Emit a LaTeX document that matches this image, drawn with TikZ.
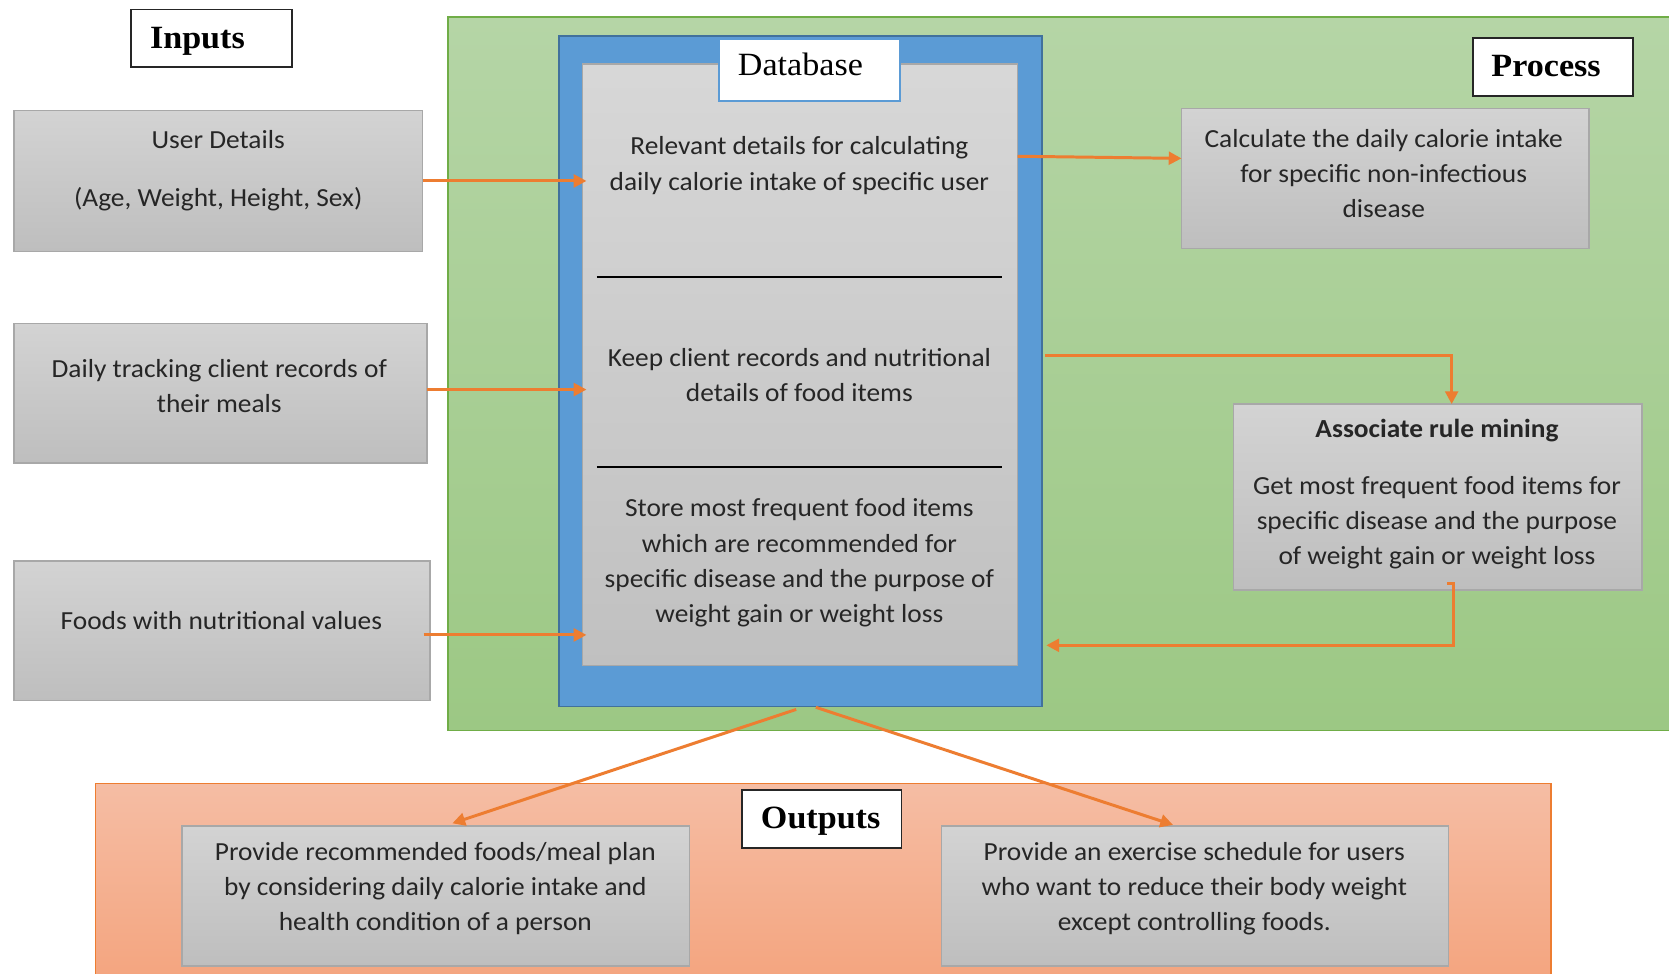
\documentclass[tikz,border=0pt]{standalone}
\usepackage{fontspec}
\setmainfont{Carlito}[FakeStretch=1.05]
\newfontfamily\labfont{Liberation Serif}[FakeStretch=1.05]
\usetikzlibrary{arrows.meta,calc}
\definecolor{arrowc}{HTML}{ED7D31}
\definecolor{grayT}{HTML}{D3D3D3}
\definecolor{grayB}{HTML}{BEBEBE}
\definecolor{boxedge}{HTML}{A8A8A8}
\definecolor{greenT}{HTML}{B5D5A6}
\definecolor{greenB}{HTML}{9CC884}
\definecolor{greenedge}{HTML}{70AD47}
\definecolor{blueF}{HTML}{5B9BD5}
\definecolor{blueedge}{HTML}{41719C}
\definecolor{orangeT}{HTML}{F5BDA4}
\definecolor{orangeB}{HTML}{F4A47E}
\definecolor{textc}{HTML}{262626}
\begin{document}
\begin{tikzpicture}[x=1pt,y=-1pt,
  box/.style={inner sep=0pt,outer sep=0pt},
  graybox/.style={box,draw=boxedge,line width=1.3pt,top color=grayT,bottom color=grayB},
  labbox/.style={box,draw=textc,line width=1.6pt,fill=white},
  txt/.style={align=center,inner sep=0pt,text=textc,font=\fontsize{24.5}{33}\selectfont},
  labtxt/.style={inner sep=0pt,anchor=base,font=\labfont\fontsize{30.5}{36}\selectfont},
  arr/.style={draw=arrowc,line width=2.8pt,-{Triangle[length=12pt,width=12pt]}},
  divider/.style={draw=black,line width=1.5pt}]
\useasboundingbox (0,0) rectangle (1568,915);
\fill[white] (0,0) rectangle (1568,915);
% areas
\node[box,draw=greenedge,line width=1.3pt,top color=greenT,bottom color=greenB,minimum width=1160pt,minimum height=670pt] (proc) at (1001,351) {};
\node[box,draw=arrowc,line width=1.3pt,top color=orangeT,bottom color=orangeB,minimum width=1367pt,minimum height=189pt] (outarea) at (773.5,830.5) {};
% database
\node[box,draw=blueedge,line width=1.3pt,fill=blueF,minimum width=454pt,minimum height=629.5pt] (dbout) at (752,348.75) {};
\node[box,draw=boxedge,line width=1.3pt,top color=grayT!90!white,bottom color=grayB!90!grayT,minimum width=409pt,minimum height=565pt] (dbin) at (751.5,342.5) {};
\node[box,draw=blueF,line width=1.2pt,fill=white,minimum width=170pt,minimum height=58.4pt] (dblab) at (760.5,65.8) {};
\node[labtxt] (dblabt) at (752,71.4) {Database};
\draw[divider] (dbin.west |- 0,260) ++(13.7,0) coordinate (d1a) -- ($(d1a)+(380.3,0)$) coordinate (d1b);
\draw[divider] (dbin.west |- 0,439) ++(13.7,0) coordinate (d2a) -- ($(d2a)+(380.3,0)$) coordinate (d2b);
\node[txt] (db1) at (751,155.5) {Relevant details for calculating\\daily calorie intake of specific user};
\node[txt] (db2) at (751,352) {Keep client records and nutritional\\details of food items};
\node[txt] (db3) at (751,528.5) {Store most frequent food items\\[0.5pt]which are recommended for\\specific disease and the purpose of\\weight gain or weight loss};
% labels
\node[labbox,minimum width=151pt,minimum height=54pt] (inlab) at (198.5,36) {};
\node[labtxt,font=\labfont\bfseries\fontsize{30.5}{36}\selectfont] (inlabt) at (185.5,45.4) {Inputs};
\node[labbox,minimum width=150pt,minimum height=54pt] (proclab) at (1459,63) {};
\node[labtxt,font=\labfont\bfseries\fontsize{30.5}{36}\selectfont] (proclabt) at (1452.5,72) {Process};
\node[labbox,minimum width=150pt,minimum height=55pt] (outlab) at (772,769.5) {};
\node[labtxt,font=\labfont\bfseries\fontsize{30.5}{36}\selectfont] (outlabt) at (771,778.2) {Outputs};
% input boxes
\node[graybox,minimum width=384pt,minimum height=132pt] (ud) at (205,170) {};
\node[txt] (udt) at (205,160.5) {User Details\\[21pt](Age, Weight, Height, Sex)};
\node[graybox,minimum width=388pt,minimum height=131pt] (dt) at (207,369.5) {};
\node[txt] (dtt) at (206,363) {Daily tracking client records of\\their meals};
\node[graybox,minimum width=391pt,minimum height=131pt] (fn) at (208.5,592.5) {};
\node[txt] (fnt) at (208,583) {Foods with nutritional values};
% process boxes
\node[graybox,minimum width=382.7pt,minimum height=131.6pt] (calc) at (1301.35,167.8) {};
\node[txt] (calct) at (1300,163) {Calculate the daily calorie intake\\for specific non-infectious\\disease};
\node[graybox,minimum width=383.6pt,minimum height=174.7pt] (assoc) at (1350.8,467) {};
\node[txt] (assoct) at (1350,464.5) {\textbf{Associate rule mining}\\[20.5pt]Get most frequent food items for\\specific disease and the purpose\\of weight gain or weight loss};
% output boxes
\node[graybox,minimum width=476.6pt,minimum height=131.5pt] (out1) at (409.3,841.75) {};
\node[txt] (out1t) at (409,835) {Provide recommended foods/meal plan\\by considering daily calorie intake and\\health condition of a person};
\node[graybox,minimum width=476.5pt,minimum height=131.5pt] (out2) at (1122.75,841.75) {};
\node[txt] (out2t) at (1122,835) {Provide an exercise schedule for users\\who want to reduce their body weight\\except controlling foods.};
% connectors
\draw[arr] (ud.east) -- ($(ud.east -| dbin.west)+(4,0)$);
\draw[arr] ($(dt.east)+(0,-3.5)$) -- ($(dt.east -| dbin.west)+(4,-3.5)$);
\draw[arr] ($(fn.east)+(-6,4)$) -- ($(fn.east -| dbin.west)+(4,4)$);
\draw[arr] ($(dbin.east |- calc.west)+(0,-21)$) -- ($(calc.west)+(0,-19)$);
\draw[arr] ($(dbout.east)+(3,-14.5)$) -| ($(assoc.north)+(13,0)$);
\draw[arr] ($(assoc.south)+(9,-6)$) -- ++(6,0) |- ($(dbout.east)+(4,257.5)$);
\draw[arr] ($(dbout.south)+(-4,3)$) -- ($(out1.north)+(15.7,-2.5)$);
\draw[arr] ($(dbout.south)+(14.5,1)$) -- ($(out2.north)+(-20.7,-1)$);
\end{tikzpicture}
\end{document}
